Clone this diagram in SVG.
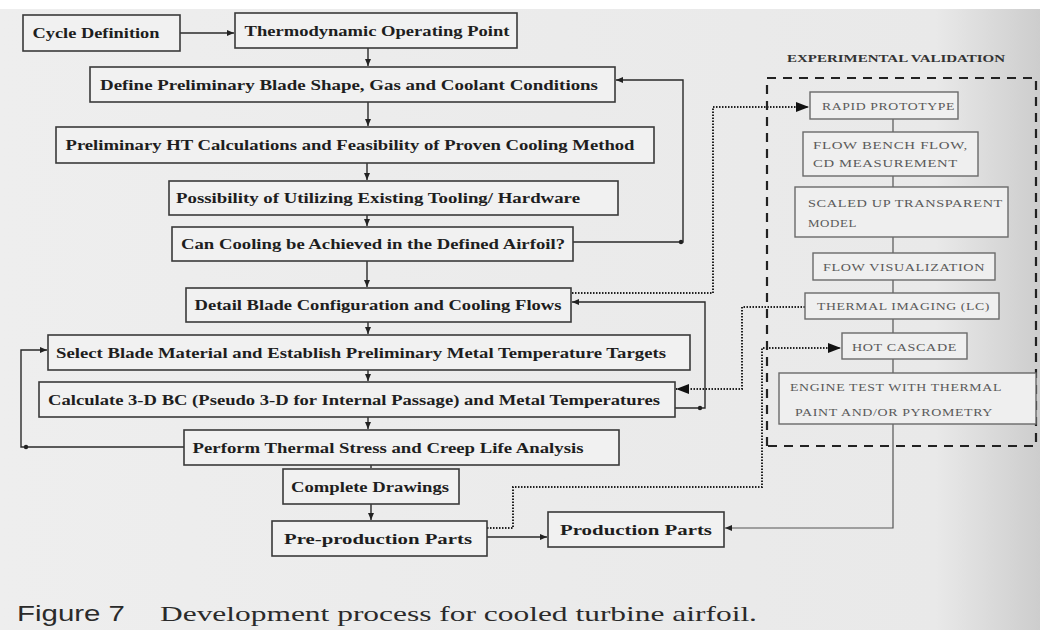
<svg xmlns="http://www.w3.org/2000/svg" width="1040" height="630" viewBox="0 0 1040 630">
<defs>
<linearGradient id="bg" x1="0" y1="0" x2="1" y2="0">
<stop offset="0" stop-color="#eeeeee"/>
<stop offset="0.9" stop-color="#e9e9e9"/>
<stop offset="1" stop-color="#cdcdcd"/>
</linearGradient>
<marker id="as" markerWidth="7" markerHeight="6" refX="7" refY="3" orient="auto" markerUnits="userSpaceOnUse"><path d="M0,0 L7,3 L0,6 z" fill="#222"/></marker>
<marker id="al" markerWidth="13" markerHeight="10" refX="13" refY="5" orient="auto" markerUnits="userSpaceOnUse"><path d="M0,0 L13,5 L0,10 z" fill="#111"/></marker>
<style>
.b{fill:#f1f1f1;stroke:#3a3a3a;stroke-width:1.6}
.t{font-family:"Liberation Serif","Times New Roman",serif;font-weight:bold;font-size:15px;fill:#1e1e1e;text-anchor:middle}
.eb{fill:#efefef;stroke:#6a6a6a;stroke-width:1.4}
.et{font-family:"Liberation Serif","Times New Roman",serif;font-size:11px;fill:#5a5a5a;letter-spacing:0.5px}
.s{fill:none;stroke:#2a2a2a;stroke-width:1.4}
.d{fill:none;stroke:#222;stroke-width:2;stroke-dasharray:1.5 1.5}
.g{fill:none;stroke:#555;stroke-width:1.2}
.dash{fill:none;stroke:#222;stroke-width:2.2;stroke-dasharray:9 7}
.dot{fill:#222}
</style>
</defs>
<rect x="0" y="0" width="1040" height="630" fill="url(#bg)"/>
<rect x="0" y="0" width="1040" height="9" fill="#ffffff"/>

<g id="connectors">
<path class="s" d="M180,33 H234" marker-end="url(#as)"/>
<path class="s" d="M368,48 V66" marker-end="url(#as)"/>
<path class="s" d="M368,102 V126" marker-end="url(#as)"/>
<path class="s" d="M367,163 V180" marker-end="url(#as)"/>
<path class="s" d="M367,215 V226" marker-end="url(#as)"/>
<path class="s" d="M367,261 V287" marker-end="url(#as)"/>
<path class="s" d="M368,322 V334" marker-end="url(#as)"/>
<path class="s" d="M368,370 V381" marker-end="url(#as)"/>
<path class="s" d="M368,417 V429" marker-end="url(#as)"/>
<path class="s" d="M371,465 V468" />
<path class="s" d="M371,504 V520" marker-end="url(#as)"/>
<path class="s" d="M573,242 H683 V80 H616" marker-end="url(#as)"/>
<circle class="dot" cx="681" cy="242" r="2.2"/>
<path class="s" d="M675,408 H705 V302 H572" marker-end="url(#as)"/>
<circle class="dot" cx="700" cy="408" r="2.2"/>
<path class="s" d="M184,447 H21 V350 H47" marker-end="url(#as)"/>
<circle class="dot" cx="26" cy="447" r="2.2"/>
<path class="s" d="M487,537 H547" marker-end="url(#as)"/>
<path class="d" d="M572,293 H713 V107 H809" marker-end="url(#al)"/>
<path class="d" d="M805,307 H742 V389 H676" marker-end="url(#al)"/>
<path class="d" d="M487,528 H513 V487 H762 V348 H841" marker-end="url(#al)"/>
<path class="g" d="M893,119 V132 M893,176 V187 M893,237 V253 M893,280 V293 M893,319 V333 M893,359 V373"/>
<path class="g" d="M893,424 V528 H725" marker-end="url(#as)"/>
</g>

<g id="exp-frame">
<text x="787" y="62" font-family="Liberation Serif, serif" font-weight="bold" font-size="11" fill="#333" textLength="218" lengthAdjust="spacingAndGlyphs">EXPERIMENTAL VALIDATION</text>
<path class="dash" d="M767,446 V78 H1036 V446 H767"/>
</g>

<g id="cycle"><rect class="b" x="23" y="15" width="157" height="36"/><text class="t" x="96" y="38" textLength="127" lengthAdjust="spacingAndGlyphs">Cycle Definition</text></g>
<g id="thermo"><rect class="b" x="235" y="13" width="282" height="35"/><text class="t" x="377" y="36" textLength="265" lengthAdjust="spacingAndGlyphs">Thermodynamic Operating Point</text></g>
<g id="define"><rect class="b" x="90" y="67" width="525" height="35"/><text class="t" x="349" y="90" textLength="498" lengthAdjust="spacingAndGlyphs">Define Preliminary Blade Shape, Gas and Coolant Conditions</text></g>
<g id="prelim"><rect class="b" x="56" y="127" width="598" height="36"/><text class="t" x="350" y="150" textLength="569" lengthAdjust="spacingAndGlyphs">Preliminary HT Calculations and Feasibility of Proven Cooling Method</text></g>
<g id="possibility"><rect class="b" x="169" y="181" width="449" height="34"/><text class="t" x="378" y="203" textLength="404" lengthAdjust="spacingAndGlyphs">Possibility of Utilizing Existing Tooling/ Hardware</text></g>
<g id="cancool"><rect class="b" x="172" y="227" width="401" height="34"/><text class="t" x="373" y="249" textLength="384" lengthAdjust="spacingAndGlyphs">Can Cooling be Achieved in the Defined Airfoil?</text></g>
<g id="detail"><rect class="b" x="186" y="288" width="385" height="34"/><text class="t" x="378" y="310" textLength="367" lengthAdjust="spacingAndGlyphs">Detail Blade Configuration and Cooling Flows</text></g>
<g id="select"><rect class="b" x="48" y="335" width="642" height="35"/><text class="t" x="361" y="358" textLength="610" lengthAdjust="spacingAndGlyphs">Select Blade Material and Establish Preliminary Metal Temperature Targets</text></g>
<g id="calculate"><rect class="b" x="39" y="382" width="636" height="35"/><text class="t" x="354" y="405" textLength="612" lengthAdjust="spacingAndGlyphs">Calculate 3-D BC (Pseudo 3-D for Internal Passage) and Metal Temperatures</text></g>
<g id="perform"><rect class="b" x="184" y="430" width="435" height="35"/><text class="t" x="388" y="453" textLength="391" lengthAdjust="spacingAndGlyphs">Perform Thermal Stress and Creep Life Analysis</text></g>
<g id="complete"><rect class="b" x="283" y="469" width="176" height="35"/><text class="t" x="370" y="492" textLength="158" lengthAdjust="spacingAndGlyphs">Complete Drawings</text></g>
<g id="preprod"><rect class="b" x="272" y="521" width="215" height="35"/><text class="t" x="378" y="544" textLength="188" lengthAdjust="spacingAndGlyphs">Pre-production Parts</text></g>
<g id="production"><rect class="b" x="548" y="512" width="176" height="35"/><text class="t" x="636" y="535" textLength="152" lengthAdjust="spacingAndGlyphs">Production Parts</text></g>

<g id="rapid"><rect class="eb" x="810" y="92" width="148" height="27"/><text class="et" x="822" y="110" textLength="133" lengthAdjust="spacingAndGlyphs">RAPID PROTOTYPE</text></g>
<g id="flowbench"><rect class="eb" x="803" y="132" width="175" height="44"/><text class="et" x="813" y="149" textLength="155" lengthAdjust="spacingAndGlyphs">FLOW BENCH FLOW,</text><text class="et" x="813" y="167" textLength="145" lengthAdjust="spacingAndGlyphs">CD MEASUREMENT</text></g>
<g id="scaled"><rect class="eb" x="795" y="187" width="213" height="50"/><text class="et" x="808" y="207" textLength="195" lengthAdjust="spacingAndGlyphs">SCALED UP TRANSPARENT</text><text class="et" x="808" y="227" textLength="49" lengthAdjust="spacingAndGlyphs">MODEL</text></g>
<g id="flowvis"><rect class="eb" x="813" y="253" width="182" height="27"/><text class="et" x="823" y="271" textLength="162" lengthAdjust="spacingAndGlyphs">FLOW VISUALIZATION</text></g>
<g id="thermal"><rect class="eb" x="805" y="293" width="194" height="26"/><text class="et" x="817" y="310" textLength="173" lengthAdjust="spacingAndGlyphs">THERMAL IMAGING (LC)</text></g>
<g id="hot"><rect class="eb" x="842" y="333" width="125" height="26"/><text class="et" x="852" y="351" textLength="105" lengthAdjust="spacingAndGlyphs">HOT CASCADE</text></g>
<g id="engine"><rect class="eb" x="779" y="373" width="257" height="51"/><text class="et" x="790" y="391" textLength="212" lengthAdjust="spacingAndGlyphs">ENGINE TEST WITH THERMAL</text><text class="et" x="795" y="416" textLength="198" lengthAdjust="spacingAndGlyphs">PAINT AND/OR PYROMETRY</text></g>

<g id="caption">
<text x="17" y="621" font-family="Liberation Sans, Arial, sans-serif" font-size="22" fill="#2a2a2a" textLength="108" lengthAdjust="spacingAndGlyphs">Figure 7</text>
<text x="160" y="621" font-family="Liberation Serif, Times New Roman, serif" font-size="22" fill="#2a2a2a" textLength="597" lengthAdjust="spacingAndGlyphs">Development process for cooled turbine airfoil.</text>
</g>
</svg>
